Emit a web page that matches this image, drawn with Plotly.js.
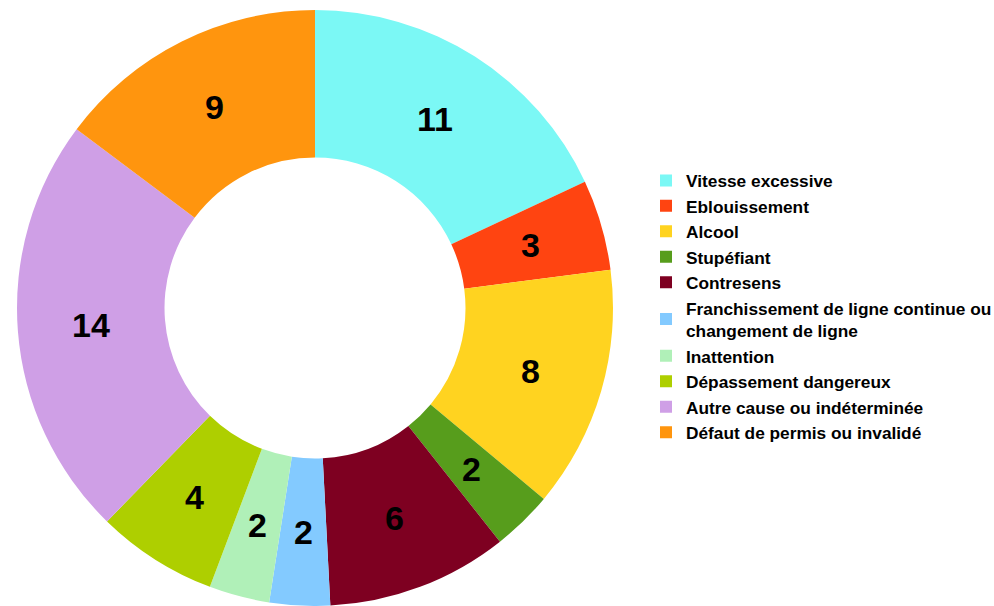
<!DOCTYPE html>
<html>
<head>
<meta charset="utf-8">
<script src="https://cdn.plot.ly/plotly-3.0.1.min.js"></script>
<style>html,body{margin:0;padding:0;background:#fff;}#chart{width:994px;height:606px;}</style>
</head>
<body>
<div id="chart"></div>
<script>
const categories = [
  "Vitesse excessive",
  "Eblouissement",
  "Alcool",
  "Stupéfiant",
  "Contresens",
  "Franchissement de ligne continue ou<br>changement de ligne",
  "Inattention",
  "Dépassement dangereux",
  "Autre cause ou indéterminée",
  "Défaut de permis ou invalidé"
];
const values = [11, 3, 8, 2, 6, 2, 2, 4, 14, 9];
const colors = ["#7BF8F5", "#FF4411", "#FFD320", "#579D1C", "#7E0021", "#83CAFF", "#B0F0B8", "#AECF00", "#CF9FE6", "#FF950E"];

const HOLE = 0.505;
const domX = [17/994, 613/994];
const domY = [0, 596/606];

// value labels: at the middle angle of each slice, half-way across the ring,
// placed on hidden axes that share the pie's domain (1 unit = pie radius)
const total = values.reduce((a, b) => a + b, 0);
const rMid = (1 + HOLE) / 2;
let cum = 0;
const annotations = values.map(v => {
  const a = (cum + v / 2) / total * 2 * Math.PI;
  cum += v;
  return {
    xref: "x", yref: "y",
    x: rMid * Math.sin(a), y: rMid * Math.cos(a),
    text: String(v), showarrow: false,
    xanchor: "center", yanchor: "middle",
    font: {family: "Liberation Sans, Arial, sans-serif", size: 34, color: "#000", weight: "bold"}
  };
});

const pie = {
  type: "pie",
  labels: categories,
  values: values,
  sort: false,
  direction: "clockwise",
  rotation: 0,
  hole: HOLE,
  marker: {colors: colors, line: {width: 0}},
  textinfo: "none",
  domain: {x: domX, y: domY},
  hoverinfo: "label+value"
};

const anchor = {type: "scatter", x: [], y: [], showlegend: false, hoverinfo: "skip"};

const layout = {
  width: 994,
  height: 606,
  margin: {l: 0, r: 0, t: 0, b: 0, autoexpand: false},
  paper_bgcolor: "#fff",
  plot_bgcolor: "rgba(0,0,0,0)",
  showlegend: true,
  xaxis: {domain: domX, range: [-1, 1], visible: false, fixedrange: true},
  yaxis: {domain: domY, range: [-1, 1], visible: false, fixedrange: true},
  annotations: annotations,
  legend: {
    x: 646/994, xanchor: "left",
    y: 0.494, yanchor: "middle",
    font: {family: "Liberation Sans, Arial, sans-serif", size: 17.3, color: "#000", weight: "bold"},
    itemwidth: 30,
    bgcolor: "rgba(0,0,0,0)"
  }
};

Plotly.newPlot("chart", [pie, anchor], layout, {displayModeBar: false, staticPlot: true});
</script>
</body>
</html>
